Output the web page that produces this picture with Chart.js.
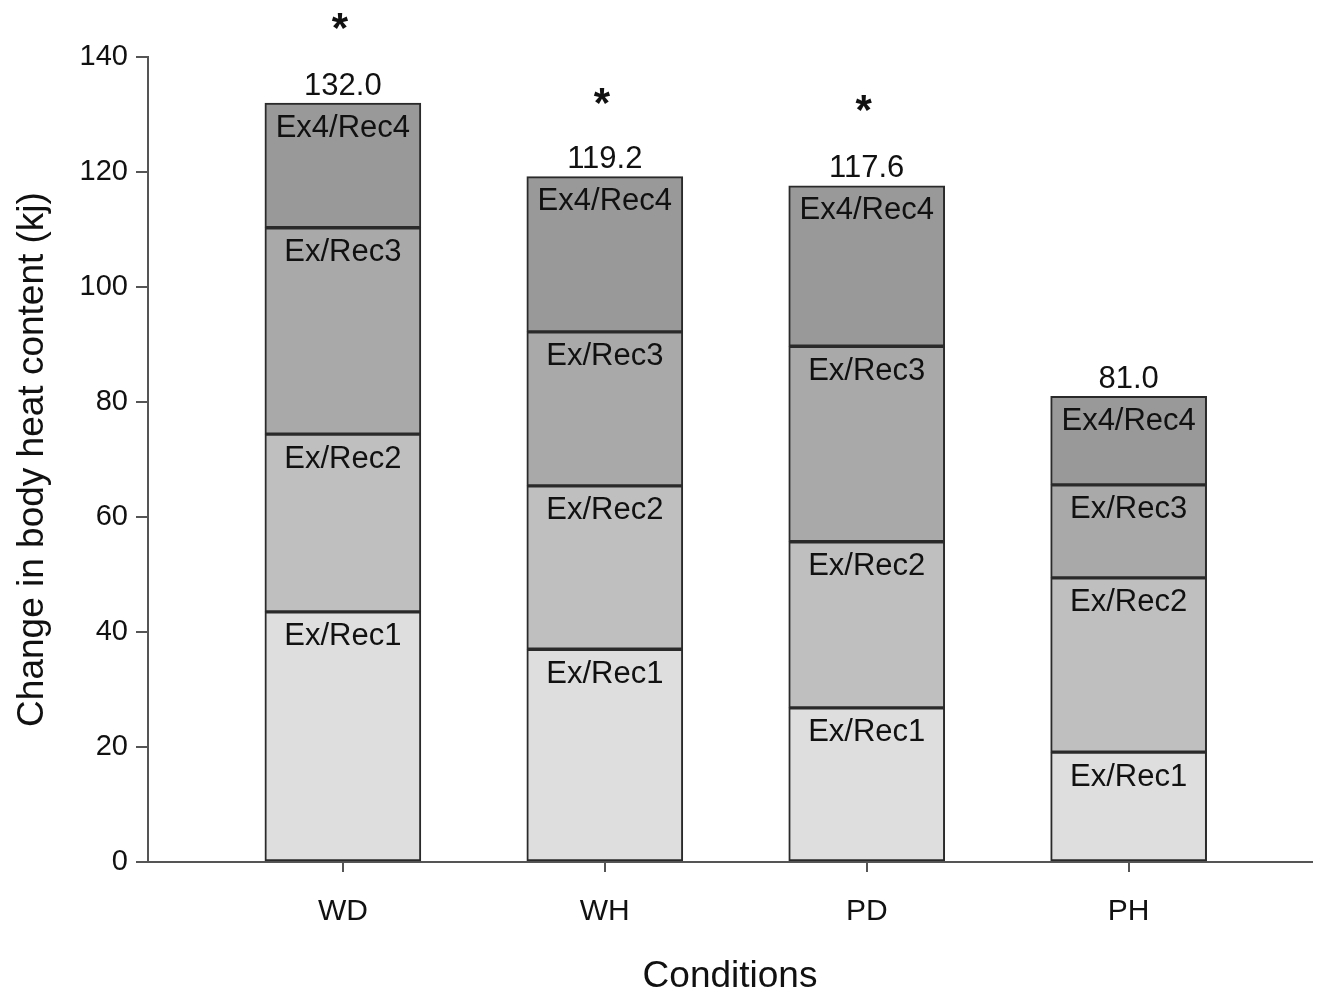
<!DOCTYPE html>
<html>
<head>
<meta charset="utf-8">
<script src="https://cdn.jsdelivr.net/npm/chart.js@4/dist/chart.umd.min.js"></script>
<style>
  html, body { margin: 0; padding: 0; background: #fff; }
  canvas { display: block; }
</style>
</head>
<body>
<canvas id="chart" width="1320" height="996"></canvas>
<script>
var conditions = ['WD', 'WH', 'PD', 'PH'];
var segmentNames = ['Ex/Rec1', 'Ex/Rec2', 'Ex/Rec3', 'Ex4/Rec4'];
var exRec1 = [43.5, 37.0, 26.8, 19.1];
var exRec2 = [30.9, 28.4, 28.9, 30.3];
var exRec3 = [35.9, 26.8, 34.0, 16.2];
var exRec4 = [21.7, 27.0, 27.9, 15.4];
var totals = [132.0, 119.2, 117.6, 81.0];
var starLevels = [146.0, 133.0, 131.8, null]; // y value of the significance asterisk

var fills = ['#dedede', '#bfbfbf', '#a9a9a9', '#999999'];
var axisColor = '#555';
var textColor = '#111';
var fontFamily = '"Liberation Sans", Arial, sans-serif';

function toPoints(arr) {
    return arr.map(function(v, i) { return {x: i, y: v}; });
}

var series = [exRec1, exRec2, exRec3, exRec4];
var datasets = series.map(function(arr, k) {
    return {
        label: segmentNames[k],
        data: toPoints(arr),
        backgroundColor: fills[k],
        borderColor: '#2a2a2a',
        borderWidth: 2,
        borderSkipped: false,
        barThickness: 156
    };
});

var barLabelPlugin = {
    id: 'barlabels',
    afterDatasetsDraw(chart) {
        var ctx = chart.ctx;
        ctx.save();
        ctx.fillStyle = textColor;
        ctx.textAlign = 'center';
        ctx.textBaseline = 'middle';
        ctx.font = '31px ' + fontFamily;
        chart.data.datasets.forEach(function(ds, i) {
            var meta = chart.getDatasetMeta(i);
            meta.data.forEach(function(bar) {
                ctx.fillText(ds.label, bar.x, bar.y + 25);
            });
        });
        // totals above each stack
        var topMeta = chart.getDatasetMeta(chart.data.datasets.length - 1);
        topMeta.data.forEach(function(bar, j) {
            ctx.fillText(totals[j].toFixed(1), bar.x, bar.y - 17);
        });
        // asterisks
        ctx.font = 'bold 42px ' + fontFamily;
        var yScale = chart.scales.y;
        topMeta.data.forEach(function(bar, j) {
            if (starLevels[j] == null) return;
            ctx.fillText('*', bar.x - 3, yScale.getPixelForValue(starLevels[j]) + 8);
        });
        ctx.restore();
    }
};

new Chart(document.getElementById('chart'), {
    type: 'bar',
    data: { datasets: datasets },
    options: {
        responsive: false,
        animation: false,
        layout: { padding: { left: 0, right: 8, top: 57, bottom: 0 } },
        plugins: {
            legend: { display: false },
            tooltip: { enabled: false }
        },
        scales: {
            x: {
                type: 'linear',
                stacked: true,
                offset: false,
                min: -0.744,
                max: 3.70,
                afterBuildTicks: function(scale) {
                    scale.ticks = conditions.map(function(c, i) { return {value: i}; });
                },
                afterFit: function(scale) { scale.height = 134; },
                ticks: {
                    callback: function(v) { return conditions[v]; },
                    color: textColor,
                    font: { family: fontFamily, size: 30 },
                    padding: 22,
                    maxRotation: 0
                },
                grid: {
                    offset: false,
                    drawOnChartArea: false,
                    tickLength: 10,
                    color: axisColor,
                    lineWidth: 2
                },
                border: { color: axisColor, width: 2 },
                title: {
                    display: true,
                    text: 'Conditions',
                    color: textColor,
                    font: { family: fontFamily, size: 37 },
                    padding: { top: 0, bottom: -3 }
                }
            },
            y: {
                stacked: true,
                min: 0,
                max: 140,
                afterFit: function(scale) { scale.width = 148; },
                ticks: {
                    stepSize: 20,
                    color: textColor,
                    font: { family: fontFamily, size: 29 },
                    padding: 8
                },
                grid: {
                    drawOnChartArea: false,
                    tickLength: 12,
                    color: axisColor,
                    lineWidth: 2
                },
                border: { color: axisColor, width: 2 },
                title: {
                    display: true,
                    text: 'Change in body heat content (kj)',
                    color: textColor,
                    font: { family: fontFamily, size: 37 },
                    padding: { top: 11, bottom: 0 }
                }
            }
        }
    },
    plugins: [barLabelPlugin]
});
</script>
</body>
</html>
